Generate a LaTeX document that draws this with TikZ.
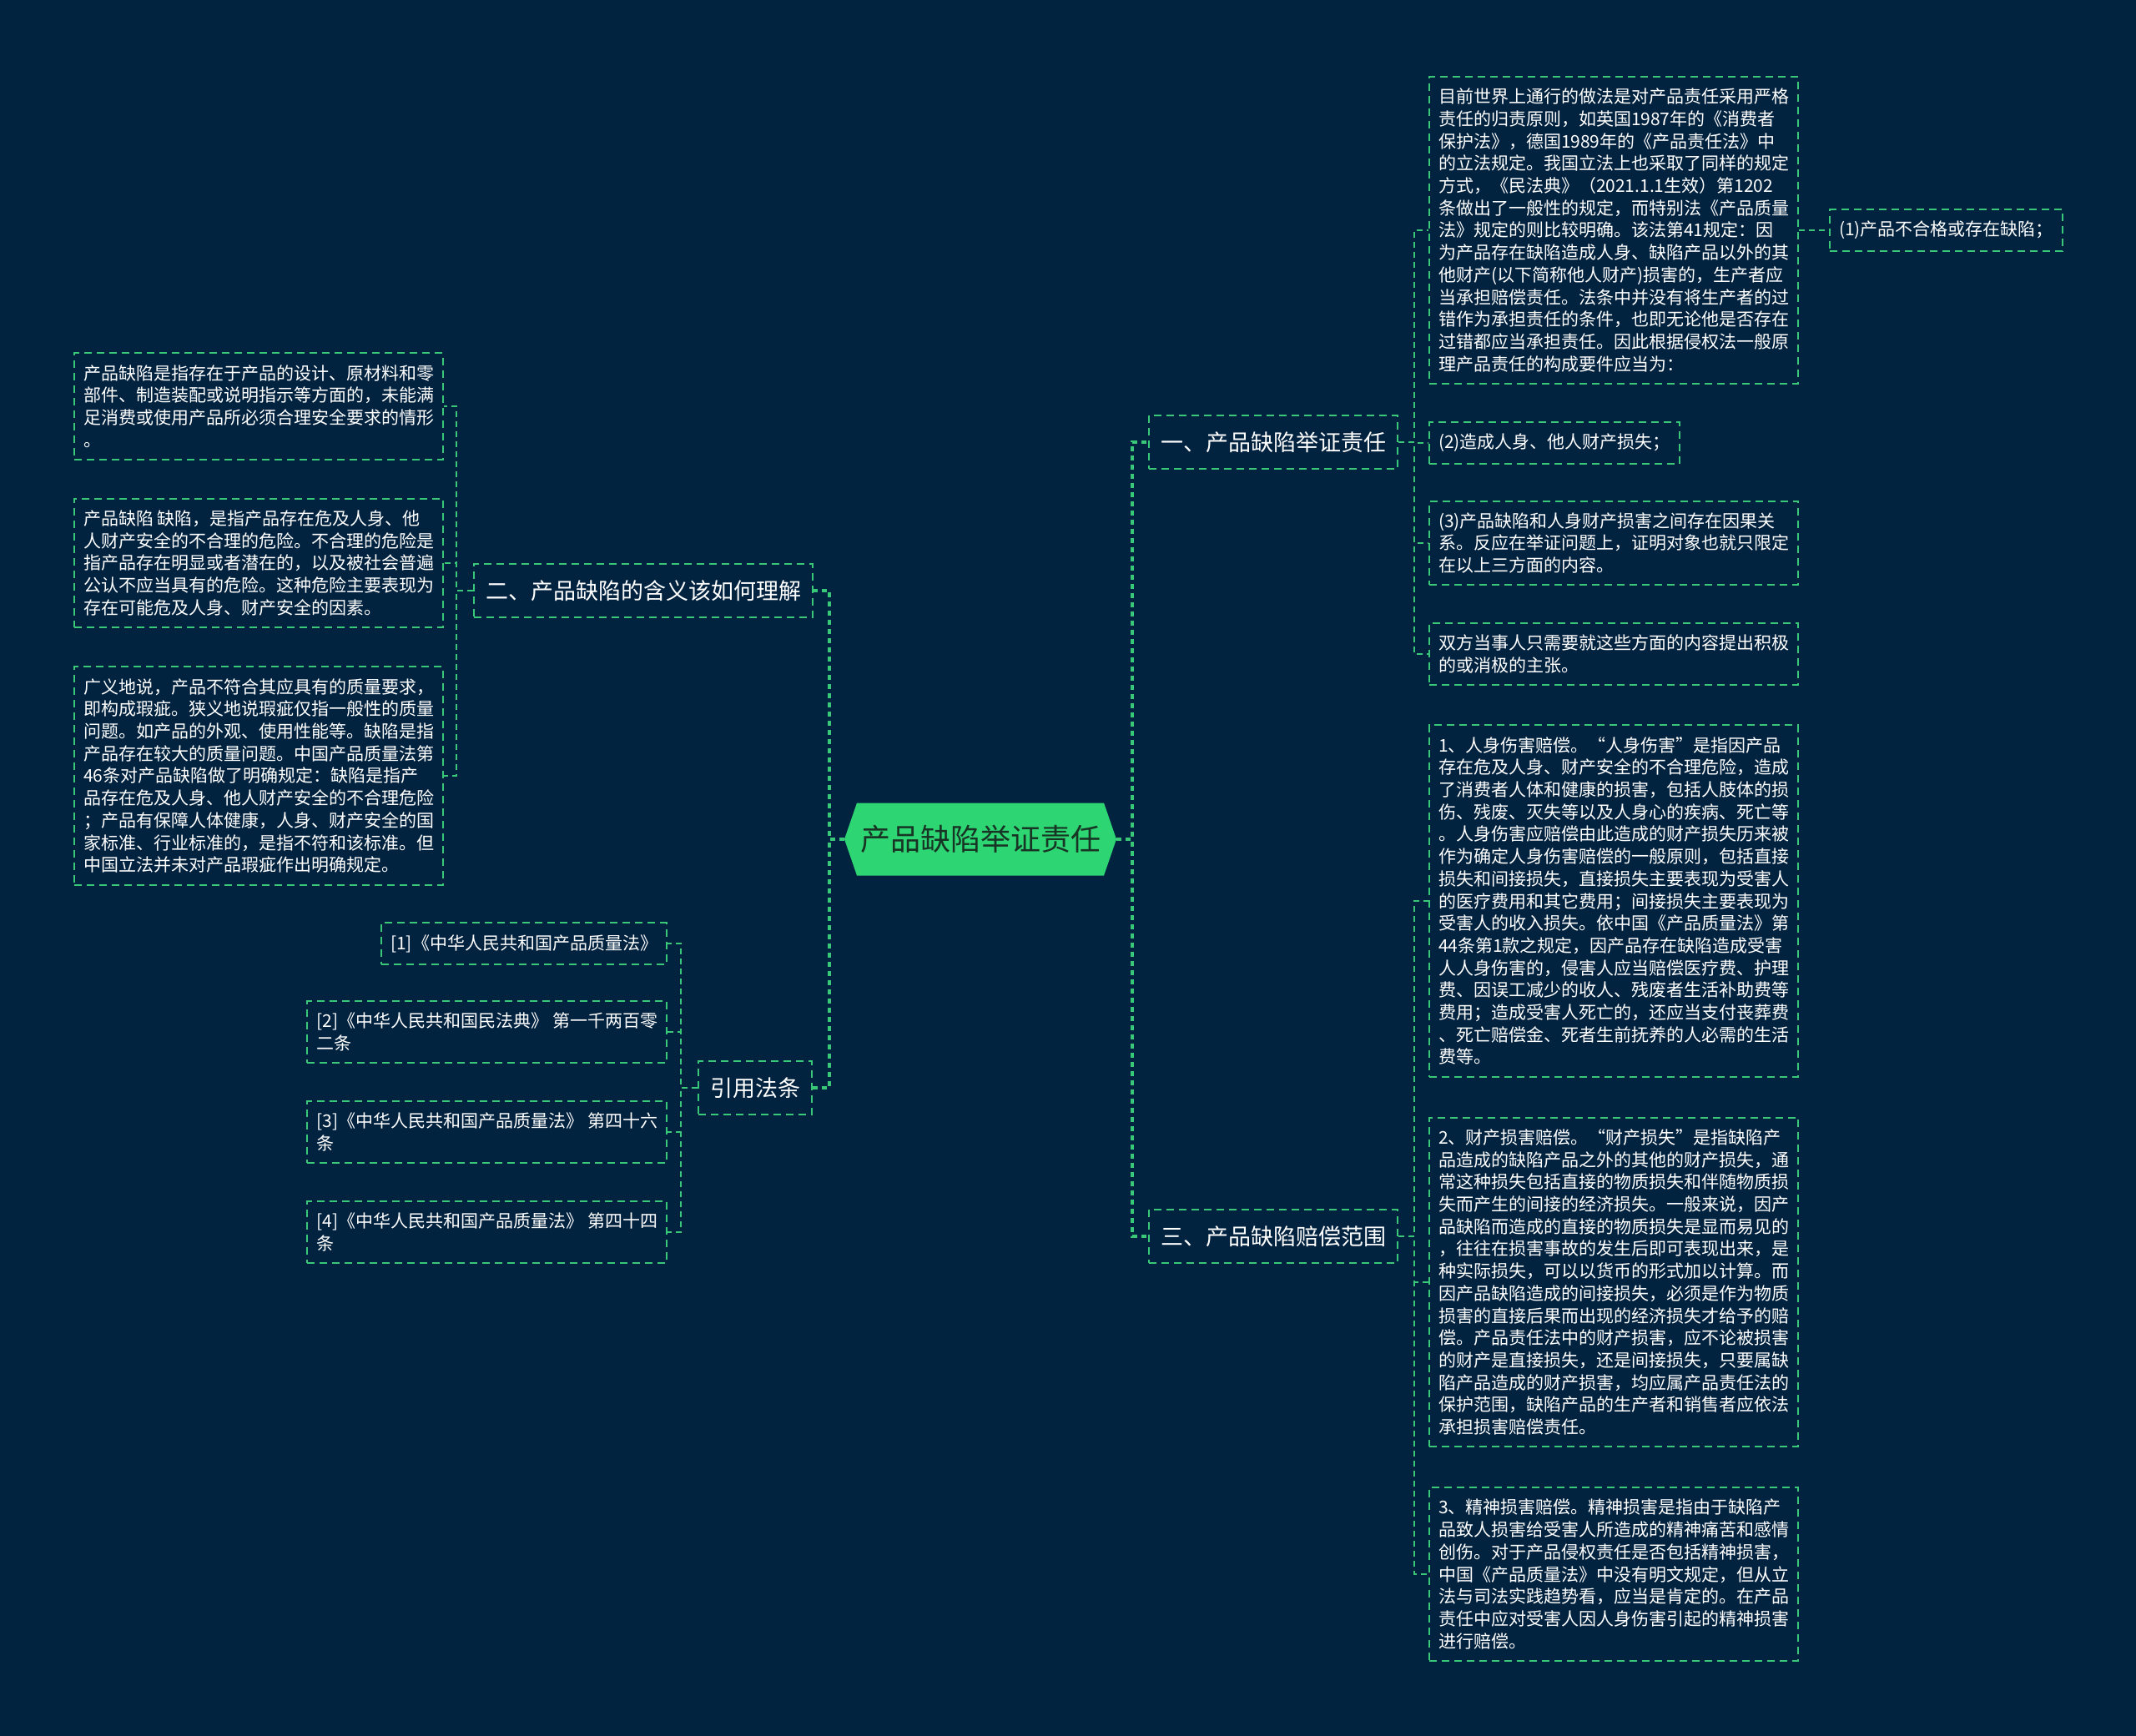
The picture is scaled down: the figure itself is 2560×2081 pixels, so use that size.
\documentclass[tikz,border=0pt]{standalone}
\usepackage{fontspec}
\setmainfont{Noto Sans CJK SC}
\usetikzlibrary{shapes.symbols}
\definecolor{bgnavy}{RGB}{2,35,64}
\definecolor{rootgreen}{RGB}{46,213,115}
\definecolor{linegreen}{RGB}{56,200,120}
\definecolor{roottext}{RGB}{24,52,36}

\begin{document}
\begin{tikzpicture}[x=0.5pt,y=-0.5pt,
    leaf/.style={draw=linegreen, line width=1pt, dash pattern=on 4.5pt off 3pt, text=white, align=left,
      inner xsep=5.5pt, inner ysep=7pt, font=\fontsize{10.5pt}{13.35pt}\selectfont},
    branch/.style={draw=linegreen, line width=1pt, dash pattern=on 4.5pt off 3pt, text=white,
      inner xsep=7pt, minimum height=32pt, font=\fontsize{13.5pt}{16pt}\selectfont},
    trunk/.style={linegreen, line width=2pt, dash pattern=on 3pt off 2.5pt},
    twig/.style={linegreen, line width=1pt, dash pattern=on 3.5pt off 2.5pt}]
  \fill[bgnavy] (0,0) rectangle (2560,2081);
  \useasboundingbox (0,0) rectangle (2560,2081);
  % root
  \node[signal, signal to=west and east, signal pointer angle=142, fill=rootgreen, text=roottext,
    minimum width=163pt, minimum height=43.5pt, inner xsep=2pt,
    font=\fontsize{18pt}{20pt}\selectfont] (root) at (1175,1006) {产品缺陷举证责任};
  % first level
  \node[branch, anchor=west] (s1) at (1376,530) {一、产品缺陷举证责任};
  \node[branch, anchor=west] (s3) at (1376,1482) {三、产品缺陷赔偿范围};
  \node[branch, anchor=east] (s2) at (975,708) {二、产品缺陷的含义该如何理解};
  \node[branch, anchor=east] (s4) at (974,1304) {引用法条};
  % right, part one
  \node[leaf, anchor=west] (r1) at (1712,276) {目前世界上通行的做法是对产品责任采用严格\\责任的归责原则，如英国1987年的《消费者\\保护法》，德国1989年的《产品责任法》中\\的立法规定。我国立法上也采取了同样的规定\\方式，《民法典》（2021.1.1生效）第1202\\条做出了一般性的规定，而特别法《产品质量\\法》规定的则比较明确。该法第41规定：因\\为产品存在缺陷造成人身、缺陷产品以外的其\\他财产(以下简称他人财产)损害的，生产者应\\当承担赔偿责任。法条中并没有将生产者的过\\错作为承担责任的条件，也即无论他是否存在\\过错都应当承担责任。因此根据侵权法一般原\\理产品责任的构成要件应当为：};
  \node[leaf, anchor=west] (p1) at (2192,276) {(1)产品不合格或存在缺陷；};
  \node[leaf, anchor=west] (r2) at (1712,531) {(2)造成人身、他人财产损失；};
  \node[leaf, anchor=west] (r3) at (1712,651) {(3)产品缺陷和人身财产损害之间存在因果关\\系。反应在举证问题上，证明对象也就只限定\\在以上三方面的内容。};
  \node[leaf, anchor=west] (r4) at (1712,784) {双方当事人只需要就这些方面的内容提出积极\\的或消极的主张。};
  % right, part three
  \node[leaf, anchor=west] (c1) at (1712,1080) {1、人身伤害赔偿。“人身伤害”是指因产品\\存在危及人身、财产安全的不合理危险，造成\\了消费者人体和健康的损害，包括人肢体的损\\伤、残废、灭失等以及人身心的疾病、死亡等\\。人身伤害应赔偿由此造成的财产损失历来被\\作为确定人身伤害赔偿的一般原则，包括直接\\损失和间接损失，直接损失主要表现为受害人\\的医疗费用和其它费用；间接损失主要表现为\\受害人的收入损失。依中国《产品质量法》第\\44条第1款之规定，因产品存在缺陷造成受害\\人人身伤害的，侵害人应当赔偿医疗费、护理\\费、因误工减少的收人、残废者生活补助费等\\费用；造成受害人死亡的，还应当支付丧葬费\\、死亡赔偿金、死者生前抚养的人必需的生活\\费等。};
  \node[leaf, anchor=west] (c2) at (1712,1537) {2、财产损害赔偿。“财产损失”是指缺陷产\\品造成的缺陷产品之外的其他的财产损失，通\\常这种损失包括直接的物质损失和伴随物质损\\失而产生的间接的经济损失。一般来说，因产\\品缺陷而造成的直接的物质损失是显而易见的\\，往往在损害事故的发生后即可表现出来，是\\种实际损失，可以以货币的形式加以计算。而\\因产品缺陷造成的间接损失，必须是作为物质\\损害的直接后果而出现的经济损失才给予的赔\\偿。产品责任法中的财产损害，应不论被损害\\的财产是直接损失，还是间接损失，只要属缺\\陷产品造成的财产损害，均应属产品责任法的\\保护范围，缺陷产品的生产者和销售者应依法\\承担损害赔偿责任。};
  \node[leaf, anchor=west] (c3) at (1712,1887) {3、精神损害赔偿。精神损害是指由于缺陷产\\品致人损害给受害人所造成的精神痛苦和感情\\创伤。对于产品侵权责任是否包括精神损害，\\中国《产品质量法》中没有明文规定，但从立\\法与司法实践趋势看，应当是肯定的。在产品\\责任中应对受害人因人身伤害引起的精神损害\\进行赔偿。};
  % left, part two
  \node[leaf, anchor=east] (d1) at (532,487) {产品缺陷是指存在于产品的设计、原材料和零\\部件、制造装配或说明指示等方面的，未能满\\足消费或使用产品所必须合理安全要求的情形\\。};
  \node[leaf, anchor=east] (d2) at (532,675) {产品缺陷 缺陷，是指产品存在危及人身、他\\人财产安全的不合理的危险。不合理的危险是\\指产品存在明显或者潜在的，以及被社会普遍\\公认不应当具有的危险。这种危险主要表现为\\存在可能危及人身、财产安全的因素。};
  \node[leaf, anchor=east] (d3) at (532,930) {广义地说，产品不符合其应具有的质量要求，\\即构成瑕疵。狭义地说瑕疵仅指一般性的质量\\问题。如产品的外观、使用性能等。缺陷是指\\产品存在较大的质量问题。中国产品质量法第\\46条对产品缺陷做了明确规定：缺陷是指产\\品存在危及人身、他人财产安全的不合理危险\\；产品有保障人体健康，人身、财产安全的国\\家标准、行业标准的，是指不符和该标准。但\\中国立法并未对产品瑕疵作出明确规定。};
  % left, laws
  \node[leaf, anchor=east] (f1) at (800,1131) {[1]《中华人民共和国产品质量法》};
  \node[leaf, anchor=east] (f2) at (800,1237) {[2]《中华人民共和国民法典》 第一千两百零\\二条};
  \node[leaf, anchor=east] (f3) at (800,1357) {[3]《中华人民共和国产品质量法》 第四十六\\条};
  \node[leaf, anchor=east] (f4) at (800,1477) {[4]《中华人民共和国产品质量法》 第四十四\\条};
  % connectors
  \foreach \b in {s1,s3}
    \draw[trunk] (root.east) -- ++(19,0) |- (\b.west);
  \foreach \b in {s2,s4}
    \draw[trunk] (root.west) -- ++(-18,0) |- (\b.east);
  \foreach \a/\b in {s1/r1,s1/r2,s1/r3,s1/r4,s3/c1,s3/c2,s3/c3}
    \draw[twig] (\a.east) -- ++(19,0) |- (\b.west);
  \foreach \a/\b in {s2/d1,s2/d2,s2/d3,s4/f1,s4/f2,s4/f3,s4/f4}
    \draw[twig] (\a.west) -- ++(-20,0) |- (\b.east);
  \draw[twig] (r1.east) -- (p1.west);
\end{tikzpicture}
\end{document}
